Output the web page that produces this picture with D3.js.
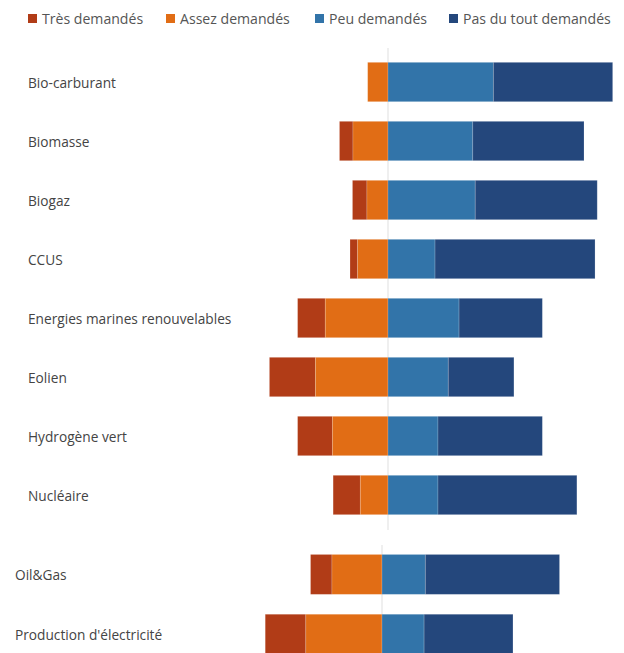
<!DOCTYPE html>
<html>
<head>
<meta charset="utf-8">
<script src="https://cdn.jsdelivr.net/npm/d3@7"></script>
<style>
  html, body { margin: 0; padding: 0; background: #ffffff; }
  svg { display: block; }
</style>
</head>
<body>
<svg id="chart" width="624" height="653"></svg>
<script>
// ---- Data (percentages) ----
const seriesNames = ["Très demandés", "Assez demandés", "Peu demandés", "Pas du tout demandés"];
const seriesColors = ["#b13c17", "#e16d15", "#3274a9", "#24477c"];

const categoriesA = ["Bio-carburant", "Biomasse", "Biogaz", "CCUS",
  "Energies marines renouvelables", "Eolien", "Hydrogène vert", "Nucléaire"];
const tresA   = [0.0, 5.5, 5.9, 3.1, 11.3, 18.8, 14.2, 11.1];
const assezA  = [8.3, 14.3, 8.6, 12.4, 25.6, 29.6, 22.7, 11.3];
const peuA    = [43.0, 34.6, 35.6, 19.2, 29.0, 24.6, 20.4, 20.4];
const pasA    = [48.7, 45.4, 49.8, 65.3, 34.0, 26.8, 42.6, 56.7];

const categoriesB = ["Oil&Gas", "Production d'électricité"];
const tresB   = [8.6, 16.3];
const assezB  = [20.1, 30.6];
const peuB    = [17.4, 16.9];
const pasB    = [53.9, 35.7];

const svg = d3.select("#chart");
const FONT = "'Open Sans', 'Noto Sans', sans-serif";
const FS = "13.7px";
const FS_LEG = "14.1px";

function buildRows(cats, tres, assez, peu, pas) {
  return cats.map((c, i) => ({
    cat: c,
    segs: [
      { s: 0, x0: -(tres[i] + assez[i]), x1: -assez[i] },
      { s: 1, x0: -assez[i], x1: 0 },
      { s: 2, x0: 0, x1: peu[i] },
      { s: 3, x0: peu[i], x1: peu[i] + pas[i] }
    ]
  }));
}

function drawGroup(rows, x, y, labelX, lineY0, lineY1) {
  const g = svg.append("g");
  // center line
  g.append("line")
    .attr("x1", x(0)).attr("x2", x(0))
    .attr("y1", lineY0).attr("y2", lineY1)
    .attr("stroke", "#e4e4e4").attr("stroke-width", 1.2);

  const row = g.selectAll("g.row").data(rows).join("g").attr("class", "row");
  row.selectAll("rect").data(d => d.segs.map(s => ({ ...s, cat: d.cat })))
    .join("rect")
    .attr("x", d => x(d.x0))
    .attr("width", d => Math.max(0, x(d.x1) - x(d.x0)))
    .attr("y", d => y(d.cat))
    .attr("height", y.bandwidth())
    .attr("fill", d => seriesColors[d.s])
    .attr("stroke", "rgba(255,255,255,0.22)")
    .attr("stroke-width", 0.8);

  // labels via axis
  const axis = d3.axisLeft(y).tickSize(0).tickPadding(0);
  const ax = g.append("g").attr("transform", `translate(${labelX},1.5)`).call(axis);
  ax.select(".domain").remove();
  ax.selectAll("text")
    .attr("text-anchor", "start")
    .attr("x", 0)
    .style("font-family", FONT)
    .style("font-size", FS)
    .attr("fill", "#444444");
}

// Group A
const xA = d3.scaleLinear().domain([-50, 100]).range([388 - 122.5, 388 + 245]);
const yA = d3.scaleBand().domain(categoriesA).range([52.5, 52.5 + 8 * 59])
  .paddingInner(0.333).paddingOuter(0.1667);
drawGroup(buildRows(categoriesA, tresA, assezA, peuA, pasA), xA, yA, 28, 48, 530);

// Group B
const xB = d3.scaleLinear().domain([-50, 100]).range([382 - 124.5, 382 + 249]);
const yB = d3.scaleBand().domain(categoriesB).range([544.5, 544.5 + 2 * 59.8])
  .paddingInner(0.333).paddingOuter(0.1667);
drawGroup(buildRows(categoriesB, tresB, assezB, peuB, pasB), xB, yB, 15, 545, 653);

// Legend
const legendX = [28, 166, 315, 449];
const leg = svg.append("g");
seriesNames.forEach((n, i) => {
  leg.append("rect").attr("x", legendX[i]).attr("y", 14).attr("width", 9).attr("height", 9)
    .attr("fill", seriesColors[i]);
  leg.append("text").attr("x", legendX[i] + 14).attr("y", 18.7)
    .attr("dy", "0.35em")
    .style("font-family", FONT).style("font-size", FS_LEG)
    .attr("fill", "#555555").text(n);
});
</script>
</body>
</html>
